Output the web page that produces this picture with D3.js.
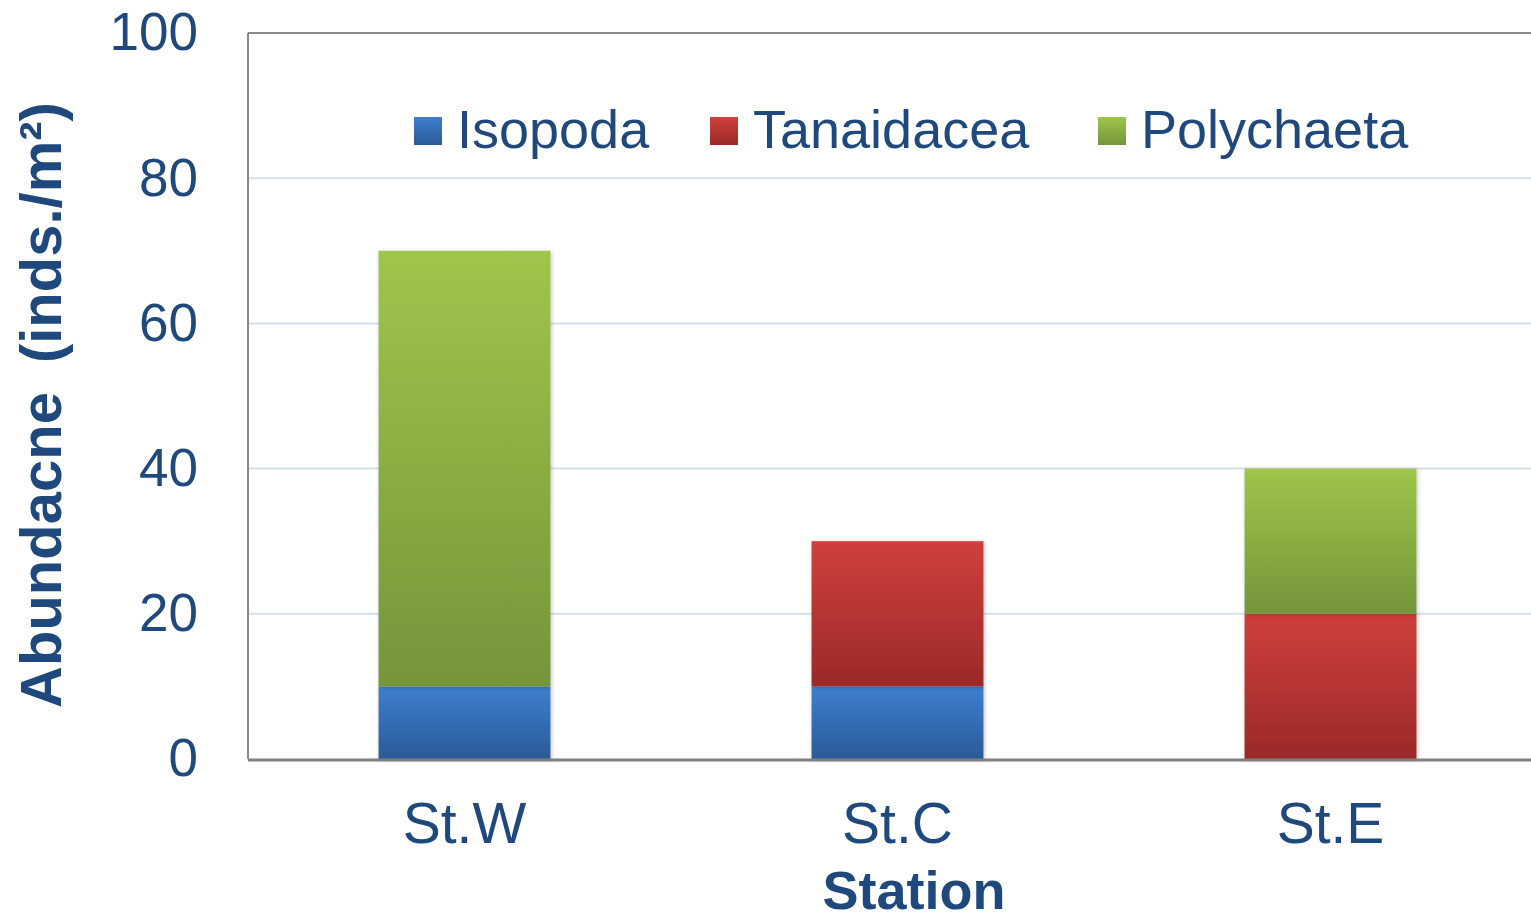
<!DOCTYPE html>
<html>
<head>
<meta charset="utf-8">
<script src="https://cdn.jsdelivr.net/npm/d3@7"></script>
<style>
  body { margin: 0; background: #fff; }
  text { font-family: "Liberation Sans", Arial, sans-serif; fill: #1f497d; }
</style>
</head>
<body>
<div id="chart"></div>
<script>
// data
var stations = ["St.W", "St.C", "St.E"];
var seriesNames = ["Isopoda", "Tanaidacea", "Polychaeta"];
var isopoda = [10, 10, 0];
var tanaidacea = [0, 20, 20];
var polychaeta = [60, 0, 20];
var yTicks = [0, 20, 40, 60, 80, 100];

// light (top) / dark (bottom) colour per series
var colorsTop = ["#3d7fcf", "#d03f3c", "#9fc54b"];
var colorsBottom = ["#2b5a98", "#9a2a28", "#74953a"];

var width = 1531, height = 920;
var margin = {top: 33, left: 248, bottom: 161};
var plotRight = 1547; // frame runs off the right edge

var rows = stations.map(function(s, i) {
  return {station: s, Isopoda: isopoda[i], Tanaidacea: tanaidacea[i], Polychaeta: polychaeta[i]};
});
var stacked = d3.stack().keys(seriesNames)(rows);

var svg = d3.select("#chart")
  .append("svg")
  .attr("width", width)
  .attr("height", height);

var defs = svg.append("defs");
seriesNames.forEach(function(name, i) {
  var g = defs.append("linearGradient")
    .attr("id", "grad" + i)
    .attr("x1", 0).attr("y1", 0).attr("x2", 0).attr("y2", 1);
  g.append("stop").attr("offset", "0%").attr("stop-color", colorsTop[i]);
  g.append("stop").attr("offset", "100%").attr("stop-color", colorsBottom[i]);
});
var shadow = defs.append("filter").attr("id", "shadow")
  .attr("x", "-10%").attr("y", "-5%").attr("width", "120%").attr("height", "110%");
shadow.append("feDropShadow")
  .attr("dx", 1).attr("dy", 1).attr("stdDeviation", 2)
  .attr("flood-color", "#000").attr("flood-opacity", 0.25);

var x = d3.scaleBand()
  .domain(stations)
  .range([margin.left, plotRight])
  .paddingInner(0.603)
  .paddingOuter(0.3015);

var y = d3.scaleLinear()
  .domain([0, 100])
  .range([height - margin.bottom, margin.top]);

// gridlines
svg.append("g")
  .selectAll("line")
  .data(yTicks.slice(1, -1))
  .join("line")
  .attr("x1", margin.left)
  .attr("x2", plotRight)
  .attr("y1", function(d) { return y(d); })
  .attr("y2", function(d) { return y(d); })
  .attr("stroke", "#d6e0ee")
  .attr("stroke-width", 2);

// frame
svg.append("line")
  .attr("x1", margin.left).attr("x2", plotRight)
  .attr("y1", y(100)).attr("y2", y(100))
  .attr("stroke", "#8a8a8a").attr("stroke-width", 2);
svg.append("line")
  .attr("x1", margin.left).attr("x2", margin.left)
  .attr("y1", y(100)).attr("y2", y(0))
  .attr("stroke", "#8a8a8a").attr("stroke-width", 2);

// bars
svg.append("g")
  .selectAll("g")
  .data(stacked)
  .join("g")
  .attr("fill", function(d, i) { return "url(#grad" + i + ")"; })
  .selectAll("rect")
  .data(function(d) { return d.filter(function(p) { return p[1] > p[0]; }); })
  .join("rect")
  .attr("x", function(d) { return x(d.data.station); })
  .attr("y", function(d) { return y(d[1]); })
  .attr("height", function(d) { return y(d[0]) - y(d[1]); })
  .attr("width", x.bandwidth())
  .attr("filter", "url(#shadow)");

// bottom axis line
svg.append("line")
  .attr("x1", margin.left).attr("x2", plotRight)
  .attr("y1", y(0) + 1).attr("y2", y(0) + 1)
  .attr("stroke", "#7f7f7f").attr("stroke-width", 3);

// y axis labels
var yAxis = d3.axisLeft(y).tickValues(yTicks).tickSize(0).tickPadding(50);
svg.append("g")
  .attr("transform", "translate(" + margin.left + ",0)")
  .call(yAxis)
  .call(function(g) { g.select(".domain").remove(); })
  .selectAll("text")
  .attr("font-size", 53)
  .attr("font-family", "Liberation Sans, Arial, sans-serif")
  .attr("fill", "#1f497d");

// x axis labels
var xAxis = d3.axisBottom(x).tickSize(0).tickPadding(44);
svg.append("g")
  .attr("transform", "translate(0," + y(0) + ")")
  .call(xAxis)
  .call(function(g) { g.select(".domain").remove(); })
  .selectAll("text")
  .attr("font-size", 57)
  .attr("font-family", "Liberation Sans, Arial, sans-serif")
  .attr("fill", "#1f497d");

// axis titles
svg.append("text")
  .attr("x", 914)
  .attr("y", 909)
  .attr("text-anchor", "middle")
  .attr("font-size", 54)
  .attr("font-weight", "bold")
  .text("Station");

svg.append("text")
  .attr("transform", "translate(61,405) rotate(-90)")
  .attr("text-anchor", "middle")
  .attr("font-size", 58)
  .attr("font-weight", "bold")
  .text("Abundacne\u2002(inds./m²)");

// legend
var legendX = [414, 710, 1098];
var legend = svg.append("g")
  .selectAll("g")
  .data(seriesNames)
  .join("g")
  .attr("transform", function(d, i) { return "translate(" + legendX[i] + ",117)"; });
legend.append("rect")
  .attr("width", 28)
  .attr("height", 28)
  .attr("fill", function(d, i) { return "url(#grad" + i + ")"; });
legend.append("text")
  .attr("x", 43)
  .attr("y", 31)
  .attr("font-size", 54)
  .text(function(d) { return d; });
</script>
</body>
</html>
